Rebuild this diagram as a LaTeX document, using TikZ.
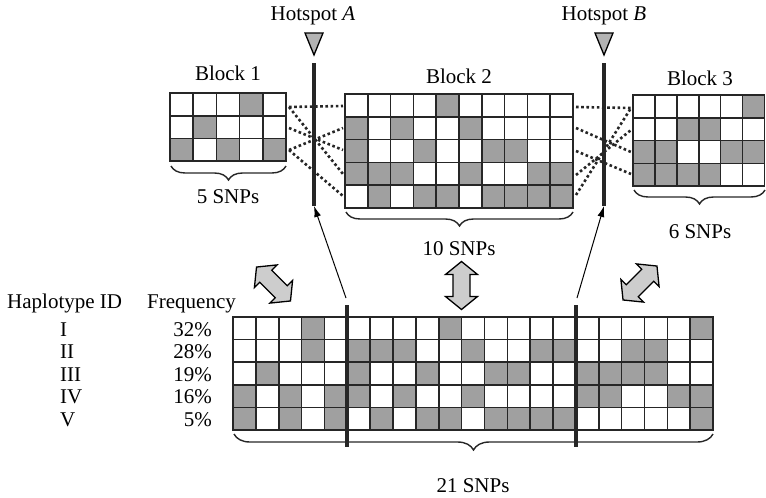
\documentclass[tikz,border=0pt]{standalone}
\usepackage{fontspec}
\setmainfont{Liberation Serif}
\usetikzlibrary{arrows.meta,decorations.pathreplacing}
\definecolor{shade}{RGB}{160,160,160}
\definecolor{fatgray}{RGB}{205,205,205}
\newcommand\drawgrid[5]{%
  \foreach \pat [count=\r] in {#5} {%
    \foreach \v [count=\c] in \pat {%
      \ifnum\v=1 \def\cellcol{shade}\else\def\cellcol{white}\fi
      \draw[cell,fill=\cellcol] ({#1+(\c-1)*#3},{#2+(\r-1)*#4}) rectangle ++(#3,#4);
    }%
  }%
}
\begin{document}
\begin{tikzpicture}[x=1pt,y=-1pt,
  every node/.style={font=\fontsize{21pt}{25pt}\selectfont, inner sep=0pt},
  cell/.style={draw=black!85,line width=1.6pt},
  hotline/.style={draw=black!85,line width=4pt},
  dots/.style={draw=black!85,line width=2.6pt,dash pattern=on 2.6pt off 2.6pt},
  bracestyle/.style={draw=black!85,line width=1.4pt,decorate,decoration={brace,mirror,amplitude=14pt}},
  thinarrow/.style={draw=black,line width=1pt,-{Latex[length=11pt,width=7pt]}},
  tri/.style={draw=black,line width=1.3pt,fill=shade!80,line join=miter},
  dblarr/.pic={\draw[black,line width=1.3pt,fill=fatgray,line join=miter]
     (-24,0) -- (-11,16) -- (-11,8.5) -- (11,8.5) -- (11,16) -- (24,0)
     -- (11,-16) -- (11,-8.5) -- (-11,-8.5) -- (-11,-16) -- cycle;}
]
\useasboundingbox (0,0) rectangle (766,498);

% ---- Blocks ----
\node[anchor=base] (lb1) at (228,80) {Block 1};
\node[anchor=base] (lb2) at (459,83) {Block 2};
\node[anchor=base] (lb3) at (700,85) {Block 3};

\drawgrid{170}{93}{23.2}{22.7}{{0,0,0,1,0},{0,1,0,0,0},{1,0,1,0,1}}
\drawgrid{345}{94}{22.8}{22.8}{{0,0,0,0,1,0,0,0,0,0},{1,0,1,0,0,1,0,0,0,0},{1,0,0,1,0,0,1,1,0,0},{1,1,1,0,0,1,0,0,1,1},{0,1,0,1,1,0,1,1,1,1}}
\drawgrid{633}{95}{21.9}{22.8}{{0,0,0,0,0,1},{0,0,1,1,0,0},{1,1,0,0,1,1},{1,1,1,1,0,0}}

% row end coordinates
\coordinate (b1a) at (289,107); \coordinate (b1b) at (289,128); \coordinate (b1c) at (289,150);
\coordinate (b2la) at (343,106); \coordinate (b2lb) at (343,128); \coordinate (b2lc) at (343,150);
\coordinate (b2ld) at (343,174); \coordinate (b2le) at (343,196);
\coordinate (b2ra) at (576,107); \coordinate (b2rb) at (576,128); \coordinate (b2rc) at (576,151);
\coordinate (b2rd) at (576,175); \coordinate (b2re) at (576,195);
\coordinate (b3a) at (631,108); \coordinate (b3b) at (631,130); \coordinate (b3c) at (631,152);
\coordinate (b3d) at (631,174);

\draw[dots] (b1a) -- (b2la);
\draw[dots] (b1a) -- (b2ld);
\draw[dots] (b1b) -- (b2lc);
\draw[dots] (b1c) -- (b2lb);
\draw[dots] (b1c) -- (b2le);

\draw[dots] (b2ra) -- (b3a);
\draw[dots] (b2rb) -- (b3c);
\draw[dots] (b2rc) -- (b3d);
\draw[dots] (b2rd) -- (b3b);
\draw[dots] (b2re) -- (b3a);

% ---- Hotspots ----
\node[anchor=base] (hA) at (313,20) {Hotspot \textit{A}};
\node[anchor=base] (hB) at (604,20) {Hotspot \textit{B}};
\draw[tri] (305,33) -- (323,33) -- (314,55) -- cycle;
\draw[tri] (595,33) -- (613,33) -- (604,55) -- cycle;
\coordinate (hAtop) at (314,63); \coordinate (hAbot) at (314,206);
\coordinate (hBtop) at (604,63); \coordinate (hBbot) at (604,206);
\draw[hotline] (hAtop) -- (hAbot);
\draw[hotline] (hBtop) -- (hBbot);

% ---- Braces ----
\draw[bracestyle] (171,166) -- (286,166);
\node[anchor=base] (s5) at (228,203) {5 SNPs};
\draw[bracestyle] (346,212) -- (573,212);
\node[anchor=base] (s10) at (459,255) {10 SNPs};
\draw[bracestyle] (634,190) -- (765,190);
\node[anchor=base] (s6) at (700,238) {6 SNPs};

% ---- Bottom table ----
\node[anchor=base west] (hid) at (7,308) {Haplotype ID};
\node[anchor=base west] (hfr) at (147,308) {Frequency};
\foreach \id/\fr [count=\i] in {I/32\%,II/28\%,III/19\%,IV/16\%,V/5\%} {
  \node[anchor=base west] (id\i) at (60,{328.5+(\i-1)*22.6+7.5}) {\id};
  \node[anchor=base east] (fr\i) at (212,{328.5+(\i-1)*22.6+7.5}) {\fr};
}

\drawgrid{233}{317}{22.86}{22.6}{%
 {0,0,0,1,0, 0,0,0,0,1,0,0,0,0,0, 0,0,0,0,0,1},%
 {0,0,0,1,0, 1,1,1,0,0,1,0,0,1,1, 0,0,1,1,0,0},%
 {0,1,0,0,0, 1,0,0,1,0,0,1,1,0,0, 1,1,1,1,0,0},%
 {1,0,1,0,1, 1,0,1,0,0,1,0,0,0,0, 1,1,0,0,1,1},%
 {1,0,1,0,1, 0,1,0,1,1,0,1,1,1,1, 0,0,0,0,0,1}}

\coordinate (cAtop) at (347.3,305); \coordinate (cAbot) at (347.3,447);
\coordinate (cBtop) at (575.9,305); \coordinate (cBbot) at (575.9,447);
\draw[hotline] (cAtop) -- (cAbot);
\draw[hotline] (cBtop) -- (cBbot);

\coordinate (aA) at (346,298); \coordinate (aB) at (577,298);
\draw[thinarrow] (aA) -- (hAbot);
\draw[thinarrow] (aB) -- (hBbot);

\draw[bracestyle,decoration={amplitude=16pt}] (234,434) -- (713,434);
\node[anchor=base] (s21) at (473,492) {21 SNPs};

% ---- Fat double arrows ----
\pic[rotate=-45] at (273.5,284) {dblarr};
\pic[rotate=90] at (461.5,285.5) {dblarr};
\pic[rotate=45] at (640,283) {dblarr};
\end{tikzpicture}
\end{document}
